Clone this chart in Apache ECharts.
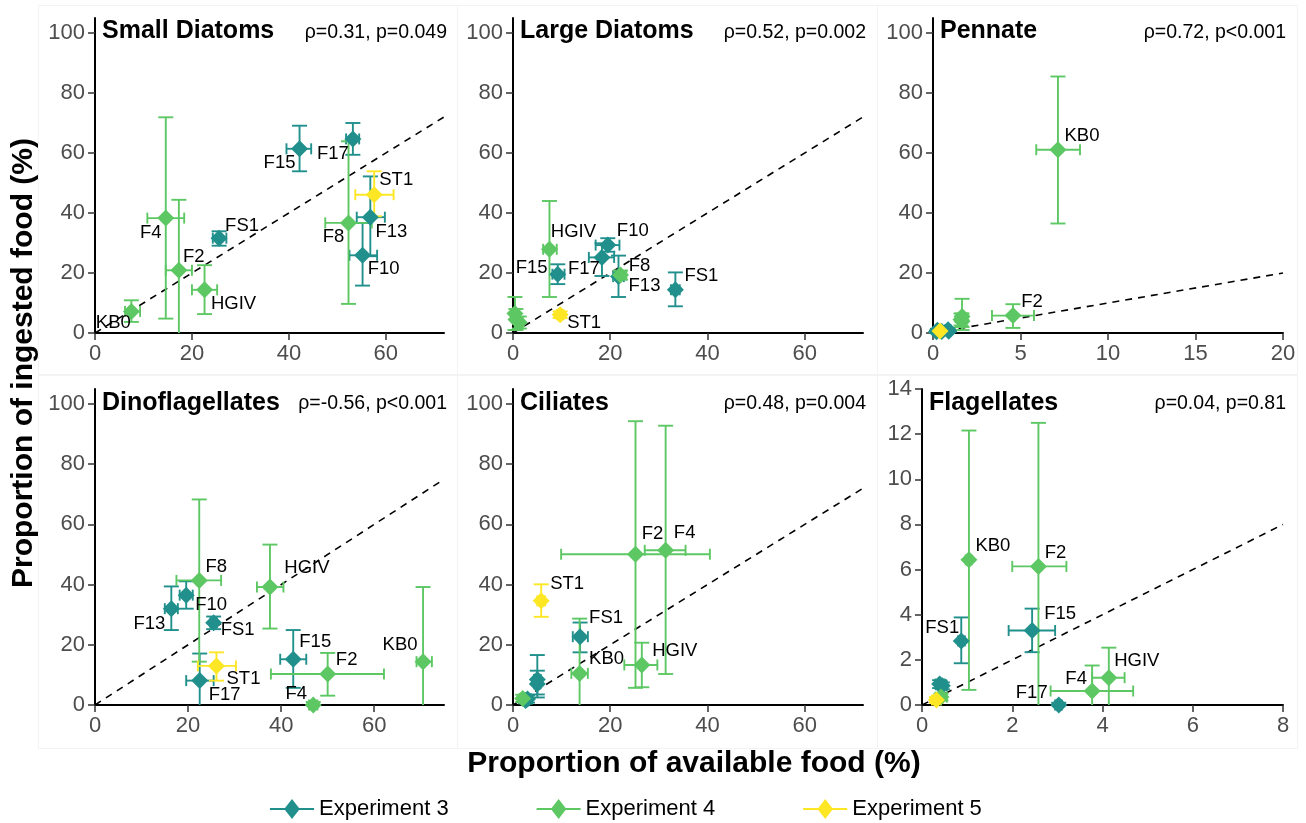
<!DOCTYPE html>
<html>
<head>
<meta charset="utf-8">
<script src="https://cdn.jsdelivr.net/npm/echarts@6/dist/echarts.min.js"></script>
<style>
  html, body { margin: 0; padding: 0; background: #fff; }
  #chart { width: 1306px; height: 823px; }
</style>
</head>
<body>
<div id="chart"></div>
<script>
// Sampling sites and the experiment each belongs to
const sites = ['F10', 'F13', 'F15', 'F17', 'FS1', 'F2', 'F4', 'F8', 'HGIV', 'KB0', 'ST1'];
const siteExperiment = ['Experiment 3', 'Experiment 3', 'Experiment 3', 'Experiment 3', 'Experiment 3',
  'Experiment 4', 'Experiment 4', 'Experiment 4', 'Experiment 4', 'Experiment 4', 'Experiment 5'];
const experimentNames = ['Experiment 3', 'Experiment 4', 'Experiment 5'];
const experimentColors = ['#21908C', '#5DC863', '#FDE725'];

// Rows follow `sites`: [available, availLow, availHigh, ingested, ingestedLow, ingestedHigh] (%)
const smallDiatoms = [
  [55.2, 52.5, 58.2, 25.9, 15.8, 36.7],
  [56.8, 54.0, 59.8, 38.6, 25.6, 52.2],
  [42.2, 39.5, 44.6, 61.4, 53.9, 69.1],
  [53.2, 51.8, 54.5, 64.7, 59.4, 70.0],
  [25.6, 24.3, 27.1, 31.6, 29.1, 33.9],
  [17.3, 14.6, 20.0, 20.9, -3.0, 44.4],
  [14.6, 10.8, 18.4, 38.3, 4.8, 71.9],
  [52.3, 47.5, 57.1, 36.7, 9.7, 63.9],
  [22.6, 20.0, 25.2, 14.4, 6.3, 22.6],
  [7.5, 6.2, 9.3, 7.2, 3.7, 10.9],
  [57.6, 53.7, 61.6, 46.1, 38.9, 53.9]
];
const largeDiatoms = [
  [19.5, 17.0, 21.9, 29.3, 27.1, 31.6],
  [21.7, 20.6, 22.8, 18.8, 12.0, 25.8],
  [9.2, 8.1, 10.6, 19.6, 16.3, 22.9],
  [18.3, 15.6, 20.8, 25.2, 19.0, 29.9],
  [33.4, 32.5, 34.3, 14.4, 8.9, 20.2],
  [0.6, 0.1, 1.1, 4.5, 1.0, 8.0],
  [1.3, 0.5, 2.0, 3.5, 1.5, 5.5],
  [22.1, 21.0, 23.3, 19.3, 17.8, 20.8],
  [7.5, 6.2, 9.0, 27.9, 12.0, 44.0],
  [0.4, 0.0, 0.9, 6.5, 1.0, 12.0],
  [9.7, 9.0, 10.4, 6.1, 5.0, 7.2]
];
const pennate = [
  [0.86, 0.7, 1.0, 1.1, 0.5, 1.7],
  [0.25, 0.15, 0.35, 0.9, 0.4, 1.4],
  [0.5, 0.4, 0.6, 0.5, 0.2, 0.8],
  [0.2, 0.1, 0.3, 0.4, 0.1, 0.7],
  [0.9, 0.8, 1.0, 0.6, 0.3, 0.9],
  [4.57, 3.37, 5.77, 5.8, 1.7, 9.6],
  [1.66, 1.55, 1.77, 5.5, 2.0, 11.4],
  [1.66, 1.55, 1.77, 3.9, 1.0, 6.5],
  [1.6, 1.5, 1.7, 4.5, 2.5, 6.5],
  [7.14, 5.9, 8.4, 61.1, 36.5, 85.5],
  [0.4, 0.3, 0.5, 0.7, 0.3, 1.1]
];
const dinoflagellates = [
  [19.6, 18.2, 21.0, 36.5, 32.0, 41.1],
  [16.4, 15.0, 17.8, 32.0, 24.9, 39.4],
  [42.6, 39.8, 45.4, 15.2, 5.7, 24.9],
  [22.5, 19.6, 25.5, 8.1, -3.0, 17.1],
  [25.5, 24.8, 26.2, 27.3, 25.2, 29.4],
  [50.0, 37.8, 62.1, 10.3, 3.1, 17.3],
  [46.9, 46.0, 47.8, 0.0, -1.0, 1.0],
  [22.4, 17.5, 27.1, 41.4, 14.4, 68.3],
  [37.6, 34.8, 40.5, 39.2, 25.4, 53.3],
  [70.5, 69.1, 72.4, 14.4, -10.0, 39.2],
  [26.1, 22.1, 30.3, 13.0, 8.1, 17.5]
];
const ciliates = [
  [5.0, 4.3, 5.7, 8.5, 3.5, 16.6],
  [5.0, 4.4, 5.6, 7.0, 2.5, 11.4],
  [3.0, 2.3, 3.7, 2.0, 0.8, 3.2],
  [2.6, 2.0, 3.2, 1.5, 0.5, 2.5],
  [13.8, 12.3, 15.4, 22.7, 17.5, 27.4],
  [25.2, 9.9, 40.5, 50.1, 5.7, 94.3],
  [31.4, 27.1, 35.5, 51.4, 10.3, 92.8],
  [2.0, 1.4, 2.6, 2.2, 1.0, 3.4],
  [26.5, 22.9, 29.7, 13.3, 5.9, 20.7],
  [13.7, 12.0, 15.4, 10.5, -3.0, 28.7],
  [5.8, 5.0, 6.6, 34.6, 29.3, 40.1]
];
const flagellates = [
  [0.39, 0.3, 0.5, 0.93, 0.75, 1.1],
  [0.45, 0.35, 0.55, 0.85, 0.7, 1.0],
  [2.44, 1.92, 2.95, 3.3, 2.34, 4.27],
  [3.03, 2.95, 3.1, 0.0, -0.1, 0.1],
  [0.87, 0.8, 0.95, 2.84, 1.85, 3.88],
  [2.58, 2.0, 3.2, 6.14, -0.5, 12.5],
  [3.77, 2.85, 4.68, 0.62, -0.5, 1.75],
  [0.42, 0.3, 0.55, 0.35, 0.2, 0.5],
  [4.14, 3.77, 4.49, 1.21, -0.2, 2.54],
  [1.04, 0.97, 1.1, 6.43, 0.67, 12.16],
  [0.32, 0.22, 0.42, 0.22, 0.1, 0.35]
];

const panelTitles = ['Small Diatoms', 'Large Diatoms', 'Pennate', 'Dinoflagellates', 'Ciliates', 'Flagellates'];
const panelStats = ['ρ=0.31, p=0.049', 'ρ=0.52, p=0.002', 'ρ=0.72, p<0.001',
  'ρ=-0.56, p<0.001', 'ρ=0.48, p=0.004', 'ρ=0.04, p=0.81'];
const percentTicks = [0, 20, 40, 60, 80, 100];
const xTicks = [[0, 20, 40, 60], [0, 20, 40, 60], [0, 5, 10, 15, 20], [0, 20, 40, 60], [0, 20, 40, 60], [0, 2, 4, 6, 8]];
const yTicks = [percentTicks, percentTicks, percentTicks, percentTicks, percentTicks, [0, 2, 4, 6, 8, 10, 12, 14]];
const xLimits = [72, 72, 20, 75, 72, 8];
const yLimits = [105, 105, 105, 105, 105, 14];
const panelData = [smallDiatoms, largeDiatoms, pennate, dinoflagellates, ciliates, flagellates];

// ---- layout ----
const FONT = "'Liberation Sans', Arial, Helvetica, sans-serif";
const grids = [
  { left: 95, top: 18, width: 349, height: 315 },
  { left: 513, top: 18, width: 350, height: 315 },
  { left: 933, top: 18, width: 350, height: 315 },
  { left: 95, top: 389, width: 349, height: 316 },
  { left: 513, top: 389, width: 350, height: 316 },
  { left: 922, top: 389, width: 361, height: 316 }
];
// Where each site's name sits relative to its marker (px); sites without an entry stay unlabelled
const labelOffsets = [
  { F15: [-20, 14], F17: [-20, 15], ST1: [22, -15], FS1: [23, -12], F4: [-15, 15], F8: [-15, 14],
    F13: [21, 15], F2: [15, -13], F10: [21, 14], HGIV: [29, 14], KB0: [-18, 12] },
  { HGIV: [24, -17], F10: [25, -14], F15: [-26, -6], F17: [-18, 12], F8: [19, -9], F13: [26, 9],
    FS1: [26, -14], ST1: [24, 8] },
  { KB0: [24, -14], F2: [19, -14] },
  { F8: [17, -13], F10: [25, 10], F13: [-22, 15], FS1: [24, 7], HGIV: [37, -19], F15: [22, -17],
    F2: [19, -14], KB0: [-23, -17], F4: [-17, -11], ST1: [27, 13], F17: [25, 14] },
  { F2: [17, -20], F4: [19, -17], ST1: [26, -17], FS1: [26, -19], KB0: [27, -14], HGIV: [33, -14] },
  { KB0: [24, -14], F2: [17, -14], FS1: [-19, -13], F15: [28, -17], HGIV: [28, -17], F4: [-16, -12], F17: [-27, -12] }
];

// Cross-shaped error bars (available on x, ingested on y), clipped to the panel
function renderErrorBars(params, api) {
  const cs = params.coordSys;
  const x = api.value(0), xlo = api.value(1), xhi = api.value(2);
  const y = api.value(3), ylo = api.value(4), yhi = api.value(5);
  const inX = v => v >= cs.x - 0.5 && v <= cs.x + cs.width + 0.5;
  const inY = v => v >= cs.y - 0.5 && v <= cs.y + cs.height + 0.5;
  const clampX = v => Math.min(Math.max(v, cs.x), cs.x + cs.width);
  const clampY = v => Math.min(Math.max(v, cs.y), cs.y + cs.height);
  const c = api.coord([x, y]);
  const left = api.coord([xlo, y])[0], right = api.coord([xhi, y])[0];
  const low = api.coord([x, ylo])[1], high = api.coord([x, yhi])[1];
  const style = { stroke: api.visual('color'), lineWidth: 1.9, fill: null };
  const children = [];
  const seg = (x1, y1, x2, y2) => children.push({ type: 'line', shape: { x1, y1, x2, y2 }, style });
  const capW = 7.5, capH = 5.5;
  seg(c[0], clampY(low), c[0], clampY(high));
  [low, high].forEach(py => { if (inY(py)) seg(c[0] - capW, py, c[0] + capW, py); });
  seg(clampX(left), c[1], clampX(right), c[1]);
  [left, right].forEach(px => { if (inX(px)) seg(px, c[1] - capH, px, c[1] + capH); });
  return { type: 'group', children };
}

const xAxes = [], yAxes = [], series = [], graphics = [];

grids.forEach((g, p) => {
  xAxes.push({
    type: 'value', gridIndex: p, min: 0, max: xLimits[p],
    axisLine: { show: true, onZero: false, lineStyle: { color: '#000', width: 2 } },
    axisTick: { show: true, length: 7, customValues: xTicks[p], lineStyle: { color: '#333', width: 1.5 } },
    axisLabel: { customValues: xTicks[p], margin: 10, color: '#4D4D4D', fontSize: 22, fontFamily: FONT },
    splitLine: { show: false }
  });
  yAxes.push({
    type: 'value', gridIndex: p, min: 0, max: yLimits[p],
    axisLine: { show: true, onZero: false, lineStyle: { color: '#000', width: 2 } },
    axisTick: { show: true, length: 7, customValues: yTicks[p], lineStyle: { color: '#333', width: 1.5 } },
    axisLabel: { customValues: yTicks[p], margin: 10, color: '#4D4D4D', fontSize: 22, fontFamily: FONT },
    splitLine: { show: false }
  });

  // 1:1 reference line
  series.push({
    type: 'line', name: 'one-to-one', xAxisIndex: p, yAxisIndex: p, silent: true, z: 1,
    symbol: 'none', data: [[0, 0], [xLimits[p], xLimits[p]]],
    lineStyle: { color: '#000', width: 1.6, type: [7, 6] }, animation: false
  });

  const rows = panelData[p];
  experimentNames.forEach((exp, e) => {
    const idx = sites.map((s, i) => i).filter(i => siteExperiment[i] === exp);
    series.push({
      type: 'scatter', name: exp, xAxisIndex: p, yAxisIndex: p, z: 4,
      symbol: 'diamond', symbolSize: 17,
      itemStyle: { color: experimentColors[e], opacity: 1 },
      data: idx.map(i => {
        const off = labelOffsets[p][sites[i]];
        return {
          name: sites[i], value: [rows[i][0], rows[i][3]],
          label: off ? { show: true, offset: off } : { show: false }
        };
      }),
      label: {
        show: false, position: 'inside', formatter: '{b}',
        color: '#000', fontSize: 18.5, fontFamily: FONT
      },
      emphasis: { disabled: true },
      animation: false
    });
    series.push({
      type: 'custom', name: exp, xAxisIndex: p, yAxisIndex: p, z: 3,
      itemStyle: { color: experimentColors[e] },
      encode: { x: 0, y: 3 },
      renderItem: renderErrorBars,
      data: idx.map(i => rows[i]),
      silent: true, animation: false
    });
  });

  graphics.push({
    type: 'text', left: g.left + 7, top: g.top + (p < 3 ? 1 : 2),
    style: { text: panelTitles[p], font: `bold 25px ${FONT}`, fill: '#000' }
  });
  graphics.push({
    type: 'text', x: g.left + g.width + 3, y: g.top + 15,
    style: { text: panelStats[p], font: `19.5px ${FONT}`, fill: '#000', align: 'right', verticalAlign: 'middle' }
  });
});

// faint facet frames
[[38, 5, 419, 369], [457, 5, 420, 369], [877, 5, 420, 369],
 [38, 375, 419, 373], [457, 375, 420, 373], [877, 375, 420, 373]].forEach(r => {
  graphics.push({
    type: 'rect', z: -10, silent: true,
    shape: { x: r[0] + 0.5, y: r[1] + 0.5, width: r[2], height: r[3] },
    style: { fill: null, stroke: '#f3f3f3', lineWidth: 1 }
  });
});

// shared axis titles
graphics.push({
  type: 'text', x: 24, y: 363, rotation: Math.PI / 2,
  style: { text: 'Proportion of ingested food (%)', font: `bold 30px ${FONT}`, fill: '#000',
    align: 'center', verticalAlign: 'middle' }
});
graphics.push({
  type: 'text', x: 694, y: 764,
  style: { text: 'Proportion of available food (%)', font: `bold 30px ${FONT}`, fill: '#000',
    align: 'center', verticalAlign: 'middle' }
});

const chart = echarts.init(document.getElementById('chart'), null, { renderer: 'canvas' });
chart.setOption({
  animation: false,
  backgroundColor: '#fff',
  grid: grids.map(g => Object.assign({ containLabel: false }, g)),
  xAxis: xAxes,
  yAxis: yAxes,
  series: series,
  graphic: graphics,
  legend: {
    data: experimentNames,
    left: 265, top: 793,
    itemWidth: 44, itemHeight: 22, itemGap: 88,
    icon: 'path://M0,10L15,10L22,1L29,10L44,10L44,12L29,12L22,21L15,12L0,12Z',
    textStyle: { fontSize: 22, color: '#000', fontFamily: FONT },
    selectedMode: false
  }
});
</script>
</body>
</html>
